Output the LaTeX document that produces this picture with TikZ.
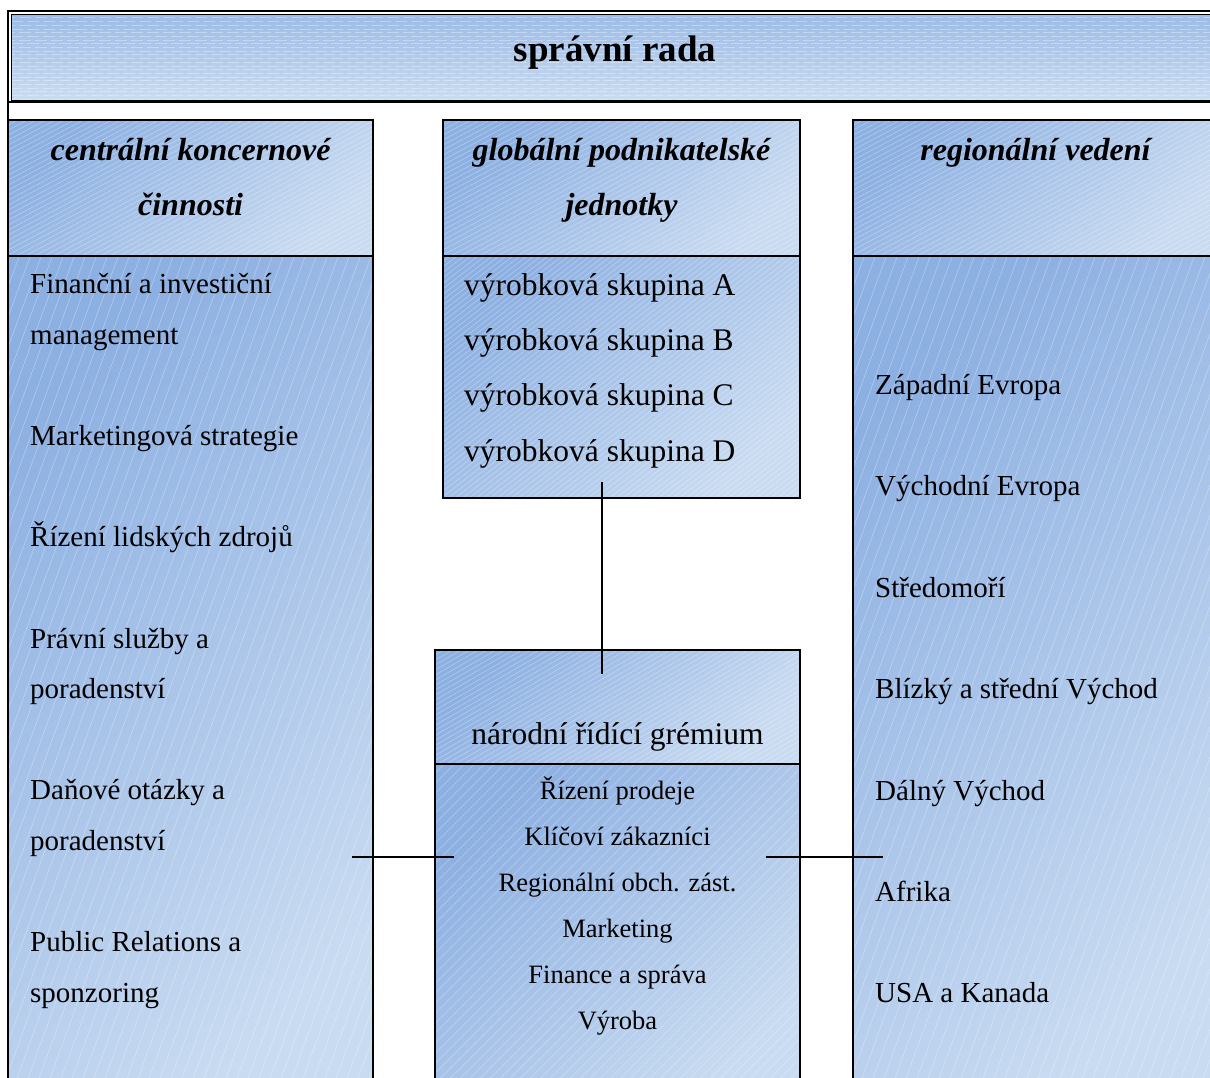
\documentclass[tikz,border=0pt]{standalone}
\usepackage{fontspec}
\setmainfont{Liberation Serif}

\definecolor{celldark}{HTML}{8DB0E2}
\definecolor{celllight}{HTML}{C9DBF1}
\definecolor{boardtop}{HTML}{9CBBE6}
\definecolor{boardbottom}{HTML}{CADCF1}

\tikzset{
  % gradient fill running from the top-left corner to the bottom-right one
  cell/.style={shade, top color=celldark, bottom color=celllight, shading angle=45,
    inner sep=0pt, anchor=north west},
  stripe/.style={draw=white, line width=0.6pt, opacity=0.33},
  outline/.style={draw=black, line width=2pt},
  conn/.style={draw=black, line width=2pt},
  titlefont/.style={font=\fontsize{37}{44}\selectfont\bfseries, inner sep=0pt, anchor=base},
  headfont/.style={font=\fontsize{32}{38}\selectfont\bfseries\itshape, inner sep=0pt, anchor=base},
  itemtext/.style={font=\fontsize{29}{35}\selectfont, inner sep=0pt, anchor=base west},
  grouptext/.style={font=\fontsize{31.5}{37}\selectfont, inner sep=0pt, anchor=base west},
  boardtext/.style={font=\fontsize{31.5}{37}\selectfont, inner sep=0pt, anchor=base},
  dutytext/.style={font=\fontsize{26.5}{32}\selectfont, inner sep=0pt, anchor=base},
}

% slanted white hatching inside a rectangle:
% #1,#2 top-left corner, #3,#4 bottom-right corner, #5 slope angle, #6 horizontal spacing
\newcommand{\hatchcell}[6]{%
  \begin{scope}
    \clip (#1,#2) rectangle (#3,#4);
    \pgfmathsetmacro\hrun{(#4-#2)*cot(#5)}
    \pgfmathsetmacro\xstart{#1-\hrun}
    \pgfmathsetmacro\xnext{\xstart+#6}
    \foreach \xs in {\xstart,\xnext,...,#3}
      \draw[stripe] (\xs,#4) -- ++(\hrun,#2-#4);
  \end{scope}}

\begin{document}
\begin{tikzpicture}[x=1pt,y=-1pt]
\useasboundingbox (0,0) rectangle (1210,1077);
\clip (0,0) rectangle (1210,1077);

% ---- fills
\node[shade, top color=boardtop, bottom color=boardbottom, inner sep=0pt, anchor=north west,
      minimum width=1219pt, minimum height=86.5pt] (board) at (11,14) {};
\node[cell, minimum width=364.7pt, minimum height=136pt] (lhead) at (8.3,120) {};
\node[cell, minimum width=364.7pt, minimum height=850pt] (lbody) at (8.3,256) {};
\node[cell, minimum width=357pt, minimum height=136pt] (mhead) at (443,120) {};
\node[cell, minimum width=357pt, minimum height=242pt] (mbody) at (443,256) {};
\node[cell, minimum width=365pt, minimum height=113.5pt] (nhead) at (435,650) {};
\node[cell, minimum width=365pt, minimum height=340pt] (nbody) at (435,763.5) {};
\node[cell, minimum width=364pt, minimum height=136pt] (rhead) at (853.3,120) {};
\node[cell, minimum width=364pt, minimum height=850pt] (rbody) at (853.3,256) {};

% ---- hatching
\begin{scope}
  \clip (11,14) rectangle (1230,100.5);
  \foreach \k in {0,...,23}
    \draw[stripe, dash pattern=on 12pt off 4pt, dash phase={mod(\k,2)*8}]
      (11,14+3.7*\k) -- (1230,14+3.7*\k);
\end{scope}
\hatchcell{8.3}{120}{373}{256}{28}{9.4}
\hatchcell{8.3}{256}{373}{1106}{70}{11}
\hatchcell{443}{120}{800}{256}{28}{9.4}
\hatchcell{443}{256}{800}{498}{38}{7}
\hatchcell{435}{650}{800}{763.5}{30}{8.7}
\hatchcell{435}{763.5}{800}{1103.5}{45}{10}
\hatchcell{853.3}{120}{1217.3}{256}{28}{9.4}
\hatchcell{853.3}{256}{1217.3}{1106}{70}{11}

% ---- borders
\draw[line width=1pt] (board.north west) rectangle (board.south east);
\draw[line width=2pt] (8.3,11) rectangle (1234,101.5);
\draw[outline] (8.3,101.5) -- (lhead.north west);
\foreach \cellname in {lhead,lbody,mhead,mbody,nhead,nbody,rhead,rbody}
  \draw[outline] (\cellname.north west) rectangle (\cellname.south east);

% ---- board of directors
\node[titlefont] (boardtitle) at (615,61) {správní rada};

% ---- left column: central corporate functions
\node[headfont] (lheadA) at (190.6,160) {centrální koncernové};
\node[headfont] (lheadB) at (190.6,215) {činnosti};
\foreach \yy/\txt [count=\i] in {
  293.8/Finanční a investiční, 344.4/management,
  445.6/Marketingová strategie,
  546.8/Řízení lidských zdrojů,
  648/Právní služby a, 698.6/poradenství,
  799.8/Daňové otázky a, 850.4/poradenství,
  951.6/Public Relations a, 1002.2/sponzoring}
  \node[itemtext] (litem\i) at (30,\yy) {\txt};

% ---- middle column: global business units
\node[headfont] (mheadA) at (621.5,160) {globální podnikatelské};
\node[headfont] (mheadB) at (621.5,215) {jednotky};
\foreach \yy/\txt [count=\i] in {
  295.5/výrobková skupina A, 350.5/výrobková skupina B,
  405.5/výrobková skupina C, 461/výrobková skupina D}
  \node[grouptext] (mitem\i) at (464,\yy) {\txt};

% ---- middle column, lower box: national steering committee
\node[boardtext] (nheadA) at (617.5,744.5) {národní řídící grémium};
\foreach \yy/\txt [count=\i] in {
  799/Řízení prodeje, 845/Klíčoví zákazníci,
  891/Regionální obch. zást., 937/Marketing,
  983/Finance a správa, 1029/Výroba}
  \node[dutytext] (nitem\i) at (617.5,\yy) {\txt};

% ---- right column: regional management
\node[headfont] (rheadA) at (1035.5,160) {regionální vedení};
\foreach \yy/\txt [count=\i] in {
  394/Západní Evropa, 495.5/Východní Evropa, 597/Středomoří,
  698.5/Blízký a střední Východ, 800/Dálný Východ,
  901/Afrika, 1002.5/USA a Kanada}
  \node[itemtext] (ritem\i) at (875,\yy) {\txt};

% ---- connecting lines
\coordinate (unitsend) at (601.7,481.7);
\coordinate (boardend) at (601.7,674.3);
\coordinate (leftend) at (351.7,856.7);
\coordinate (boardleft) at (454,856.7);
\coordinate (boardright) at (766,856.7);
\coordinate (rightend) at (882.7,856.7);
\draw[conn] (unitsend) -- (boardend);
\draw[conn] (leftend) -- (boardleft);
\draw[conn] (boardright) -- (rightend);
\end{tikzpicture}
\end{document}
